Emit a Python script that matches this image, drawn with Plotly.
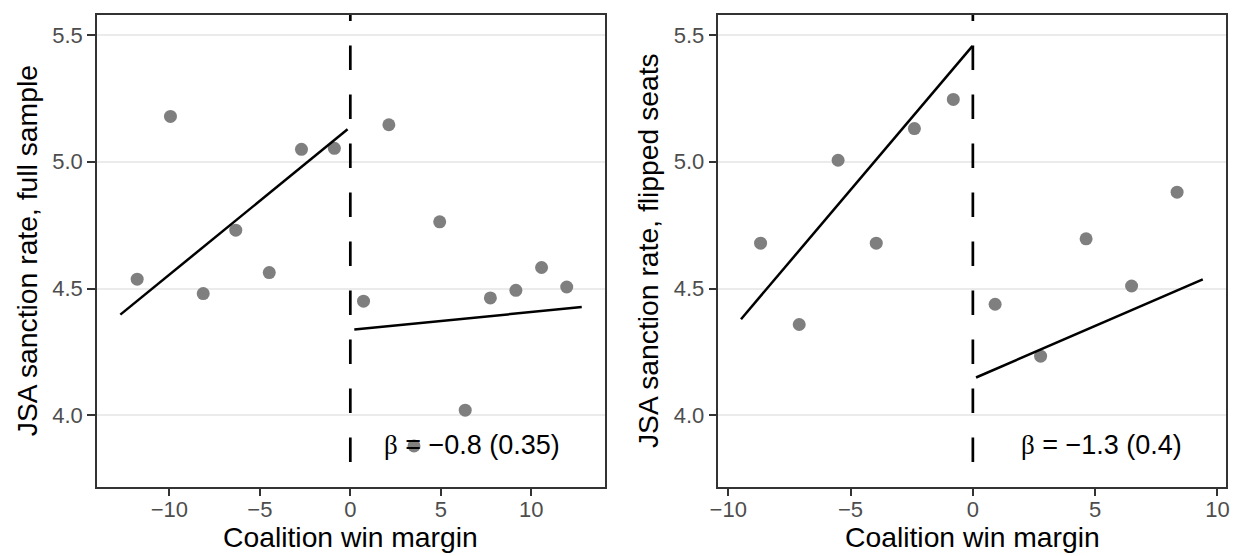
import plotly.graph_objects as go
from plotly.subplots import make_subplots

# ---------------- data ----------------
# Left panel: full sample (binned means)
full_x = [-11.78, -9.94, -8.13, -6.33, -4.48, -2.70, -0.88,
          0.73, 2.13, 3.52, 4.94, 6.35, 7.74, 9.15, 10.57, 11.96]
full_y = [4.537, 5.179, 4.480, 4.730, 4.563, 5.049, 5.053,
          4.450, 5.146, 3.879, 4.763, 4.020, 4.463, 4.493, 4.583, 4.506]
full_fit_left_x = [-12.71, -0.15]
full_fit_left_y = [4.397, 5.128]
full_fit_right_x = [0.22, 12.79]
full_fit_right_y = [4.338, 4.427]
full_label = "β = −0.8 (0.35)"

# Right panel: flipped seats
flip_x = [-8.68, -7.10, -5.51, -3.95, -2.39, -0.80,
          0.91, 2.77, 4.63, 6.49, 8.35]
flip_y = [4.679, 4.358, 5.006, 4.679, 5.131, 5.246,
          4.438, 4.233, 4.696, 4.510, 4.880]
flip_fit_left_x = [-9.48, -0.02]
flip_fit_left_y = [4.379, 5.456]
flip_fit_right_x = [0.13, 9.40]
flip_fit_right_y = [4.149, 4.536]
flip_label = "β = −1.3 (0.4)"

cutoff = 0
x_ticks = [-10, -5, 0, 5, 10]
y_ticks = [4.0, 4.5, 5.0, 5.5]
y_range = [3.717, 5.579]
x_range_full = [-14.0, 14.07]
x_range_flip = [-10.40, 10.35]

x_title = "Coalition win margin"
y_title_full = "JSA sanction rate, full sample"
y_title_flip = "JSA sanction rate, flipped seats"

# ---------------- styling ----------------
FONT = "Liberation Sans, Arial, Helvetica, sans-serif"
POINT_COLOR = "#7F7F7F"
W, H = 1236, 556
ML, MR, MT, MB = 97, 6, 15, 69
TITLE_SIZE = 28.3

fig = make_subplots(rows=1, cols=2, horizontal_spacing=0.1006)

panels = [
    (1, full_x, full_y, full_fit_left_x, full_fit_left_y,
     full_fit_right_x, full_fit_right_y, full_label, x_range_full, 6.75),
    (2, flip_x, flip_y, flip_fit_left_x, flip_fit_left_y,
     flip_fit_right_x, flip_fit_right_y, flip_label, x_range_flip, 5.25),
]

for col, px, py, lx, ly, rx, ry, lab, xr, lab_x in panels:
    # dashed cutoff line (starts just below data region so dash phase matches)
    fig.add_trace(go.Scatter(
        x=[cutoff, cutoff], y=[3.816, y_range[1] + 0.2], mode="lines",
        line=dict(color="black", width=2.7, dash="24.5px,24.5px"),
        hoverinfo="skip", showlegend=False), row=1, col=col)
    fig.add_trace(go.Scatter(
        x=px, y=py, mode="markers",
        marker=dict(color=POINT_COLOR, size=13, line=dict(width=0)),
        showlegend=False), row=1, col=col)
    fig.add_trace(go.Scatter(
        x=lx, y=ly, mode="lines", line=dict(color="black", width=2.5),
        showlegend=False), row=1, col=col)
    fig.add_trace(go.Scatter(
        x=rx, y=ry, mode="lines", line=dict(color="black", width=2.5),
        showlegend=False), row=1, col=col)
    beta, rest = lab.split(" ", 1)
    fig.add_annotation(
        x=lab_x, y=3.884, xref=f"x{'' if col == 1 else col}",
        yref=f"y{'' if col == 1 else col}",
        text=f'<span style="font-family:Liberation Serif">{beta}</span> {rest}',
        showarrow=False, font=dict(family=FONT, size=27, color="black"),
        xanchor="center", yanchor="middle")

    fig.update_xaxes(
        range=xr, tickvals=x_ticks, showgrid=False, zeroline=False,
        showline=True, mirror=True, linecolor="#333333", linewidth=1.6,
        ticks="outside", ticklen=7, tickwidth=1.6, tickcolor="#333333",
        ticklabelstandoff=-5,
        tickfont=dict(family=FONT, size=22, color="#4D4D4D"),
        row=1, col=col)
    fig.update_yaxes(
        range=y_range, tickvals=y_ticks, tickformat=".1f",
        showgrid=True, gridcolor="#EBEBEB", gridwidth=2, zeroline=False,
        showline=True, mirror=True, linecolor="#333333", linewidth=1.6,
        ticks="outside", ticklen=8, tickwidth=1.6, tickcolor="#333333",
        tickfont=dict(family=FONT, size=22, color="#4D4D4D"),
        row=1, col=col)

pw = W - ML - MR
ph = H - MT - MB
left_dom = [0, (606.7 - ML) / pw]
right_dom = [(720.7 - ML) / pw, 1]
fig.update_layout(xaxis=dict(domain=left_dom), xaxis2=dict(domain=right_dom))

def px2paper_x(p):
    return (p - ML) / pw

def px2paper_y(p):
    return (H - MB - p) / ph

# axis titles as annotations
for dom in (left_dom, right_dom):
    fig.add_annotation(
        x=(dom[0] + dom[1]) / 2, y=px2paper_y(537), xref="paper", yref="paper",
        text=x_title, showarrow=False,
        font=dict(family=FONT, size=TITLE_SIZE, color="black"),
        xanchor="center", yanchor="middle")

for title, cx in ((y_title_full, 27), (y_title_flip, 650)):
    fig.add_annotation(
        x=px2paper_x(cx), y=0.5, xref="paper", yref="paper",
        text=title, showarrow=False, textangle=-90,
        font=dict(family=FONT, size=TITLE_SIZE, color="black"),
        xanchor="center", yanchor="middle")

fig.update_layout(
    width=W, height=H,
    margin=dict(l=ML, r=MR, t=MT, b=MB),
    plot_bgcolor="white", paper_bgcolor="white",
    showlegend=False,
    font=dict(family=FONT),
)

fig.write_html("out.html")
